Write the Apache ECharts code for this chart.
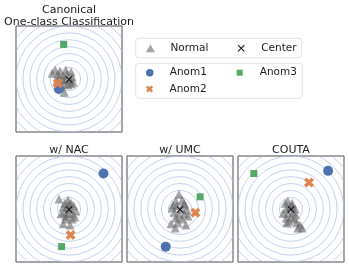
<!DOCTYPE html>
<html><head><meta charset="utf-8">
<script src="https://cdn.jsdelivr.net/npm/echarts@6/dist/echarts.min.js"></script>
<style>html,body{margin:0;padding:0;background:#fff}#c{width:349px;height:270px}</style>
</head><body><div id="c"></div>
<script>
const panelTitles = ['Canonical\nOne-class Classification', 'w/ NAC', 'w/ UMC', 'COUTA'];
const ringRadii = [0.09, 0.22, 0.35, 0.48, 0.61, 0.74, 0.87, 1.0, 1.13, 1.26, 1.39, 1.52];
const centerPts = [[0, -0.01], [0, -0.01], [0, -0.01], [0, -0.01]];
const normal1 = [[-0.32,0.11],[-0.26,0.17],[-0.21,0.09],[-0.17,0.15],[-0.11,0.06],[-0.06,0.17],[-0.04,0.09],[0.04,0.13],[0.06,0.04],[0.02,-0.02],[0.08,-0.06],[-0.06,-0.02],[-0.13,0.0],[-0.19,0.02],[-0.09,-0.09],[-0.02,-0.11],[-0.15,-0.13],[-0.09,-0.25],[0.04,-0.09],[-0.23,-0.04]];
const normal2 = [[-0.19,0.19],[-0.08,0.11],[-0.02,0.17],[0.04,0.11],[0.09,0.06],[0.13,-0.04],[0.11,-0.15],[0.06,-0.09],[-0.02,-0.09],[-0.09,-0.06],[-0.11,0.04],[-0.04,0.04],[0.02,0.0],[0.06,-0.19],[-0.06,-0.19],[-0.11,-0.28],[0.02,-0.30],[-0.15,-0.09],[0.0,0.09],[-0.06,-0.13]];
const normal3 = [[-0.02,0.28],[-0.08,0.15],[0.04,0.17],[0.09,0.08],[0.13,-0.02],[0.08,-0.09],[-0.02,-0.11],[-0.11,-0.06],[-0.15,0.02],[-0.06,0.06],[0.02,0.0],[-0.08,-0.17],[0.04,-0.19],[-0.09,-0.36],[0.11,-0.30],[-0.17,-0.28],[-0.13,0.08],[0.15,-0.13],[-0.04,-0.25],[0.08,0.11]];
const normal4 = [[-0.11,0.11],[-0.06,0.15],[0.02,0.11],[-0.02,0.04],[-0.09,0.0],[-0.15,-0.08],[-0.06,-0.08],[0.04,-0.06],[0.09,-0.11],[0.0,-0.15],[-0.09,-0.17],[0.06,-0.19],[-0.08,-0.26],[0.11,-0.25],[0.17,-0.30],[0.21,-0.36],[0.13,-0.36],[-0.04,-0.23],[0.02,0.06],[0.08,0.0]];
const normalSets = [normal1, normal2, normal3, normal4];
const anom1 = [[-0.19,-0.19],[0.65,0.67],[-0.27,-0.71],[0.70,0.72]];
const anom2 = [[-0.21,-0.08],[0.03,-0.49],[0.29,-0.07],[0.34,0.50]];
const anom3 = [[-0.10,0.65],[-0.14,-0.71],[0.38,0.23],[-0.70,0.67]];
const legendNames = ['Normal', 'Center', 'Anom1', 'Anom2', 'Anom3'];

const FONT = 'DejaVu Sans';
const thinX = 'path://M0,1L1,0L5,4L9,0L10,1L6,5L10,9L9,10L5,6L1,10L0,9L4,5Z';
const thickX = 'path://M0,2.5L2.5,0L5,2.5L7.5,0L10,2.5L7.5,5L10,7.5L7.5,10L5,7.5L2.5,10L0,7.5L2.5,5Z';
const triPath = 'path://M5,0L10,9L0,9Z';
const sqPath = 'path://M0,0L10,0L10,10L0,10Z';

const grids = [
  {left:16, top:26, width:106, height:106},
  {left:16, top:156, width:106, height:106},
  {left:127, top:156, width:106, height:106},
  {left:238, top:156, width:106, height:106}
].map(g => Object.assign(g, {show:true, borderColor:'#4a4a4a', borderWidth:1, backgroundColor:'transparent'}));

const axisBase = {type:'value', min:-1, max:1, show:true, axisLine:{show:false}, axisTick:{show:false}, axisLabel:{show:false}, splitLine:{show:false}};
const xAxes = grids.map((g,i)=>Object.assign({gridIndex:i}, axisBase));
const yAxes = grids.map((g,i)=>Object.assign({gridIndex:i}, axisBase));

const titles = [
  {text: panelTitles[0], left:69, top:4},
  {text: panelTitles[1], left:69, top:144.5},
  {text: panelTitles[2], left:180, top:144.5},
  {text: panelTitles[3], left:291, top:144.5}
].map(t => Object.assign(t, {textAlign:'center', padding:0, textStyle:{fontFamily:FONT, fontSize:11, fontWeight:'normal', color:'#1a1a1a', lineHeight:12}}));

const series = [];
for (let i = 0; i < 4; i++) {
  series.push({
    type:'custom', xAxisIndex:i, yAxisIndex:i, clip:true, silent:true, z:1,
    data: ringRadii.map(r => [r, 0]),
    renderItem: function(params, api) {
      const r = api.value(0);
      const c = api.coord([0, 0]);
      const e = api.coord([r, 0]);
      return {type:'circle', shape:{cx:c[0], cy:c[1], r:e[0]-c[0]}, style:{fill:null, stroke:'#adc2e3', lineWidth:0.75}};
    }
  });
  series.push({name:'Normal', type:'scatter', xAxisIndex:i, yAxisIndex:i, symbol:'triangle', symbolSize:9, z:2,
    itemStyle:{color:'#666666', opacity:0.58}, data: normalSets[i]});
  series.push({name:'Anom1', type:'scatter', xAxisIndex:i, yAxisIndex:i, symbol:'circle', symbolSize:10, z:3,
    itemStyle:{color:'#4c72b0', opacity:1}, data: [anom1[i]]});
  series.push({name:'Anom2', type:'scatter', xAxisIndex:i, yAxisIndex:i, symbol:thickX, symbolSize:10, z:4,
    itemStyle:{color:'#dd8452', opacity:1}, data: [anom2[i]]});
  series.push({name:'Anom3', type:'scatter', xAxisIndex:i, yAxisIndex:i, symbol:'rect', symbolSize:7, z:4,
    itemStyle:{color:'#55a868', opacity:1}, data: [anom3[i]]});
  series.push({name:'Center', type:'scatter', xAxisIndex:i, yAxisIndex:i, symbol:thinX, symbolSize:7, z:5,
    itemStyle:{color:'#111111', opacity:1}, data: [centerPts[i]]});
}

const legendText = {fontFamily:FONT, fontSize:10.5, color:'#1a1a1a', lineHeight:12};
// one legend per entry: [name, icon centre x, row top, icon size, icon]
const legendSpots = [
  [legendNames[0], 150, 42.3, 8, triPath],
  [legendNames[1], 241.7, 42.3, 7, thinX],
  [legendNames[2], 150, 66.7, 7.5, 'circle'],
  [legendNames[3], 150, 83, 7, thickX],
  [legendNames[4], 240.7, 66.7, 6, sqPath]
];
const legends = legendSpots.map(s => ({
  left: s[1] - 4, top: s[2], padding:0, itemWidth:30, itemHeight:s[3], selectedMode:false,
  textStyle: legendText, data:[{name:s[0], icon:s[4]}]
}));

const option = {
  animation:false,
  title: titles,
  grid: grids,
  xAxis: xAxes,
  yAxis: yAxes,
  legend: legends,
  graphic: [
    {type:'rect', z:0, shape:{x:135.7, y:38.3, width:166, height:19.4, r:3}, style:{fill:'#fff', stroke:'#d9d9d9', lineWidth:0.8}},
    {type:'rect', z:0, shape:{x:135.7, y:63.3, width:166.6, height:35, r:3}, style:{fill:'#fff', stroke:'#d9d9d9', lineWidth:0.8}}
  ],
  series: series
};
const chart = echarts.init(document.getElementById('c'), null, {renderer:'canvas'});
chart.setOption(option);
</script></body></html>
